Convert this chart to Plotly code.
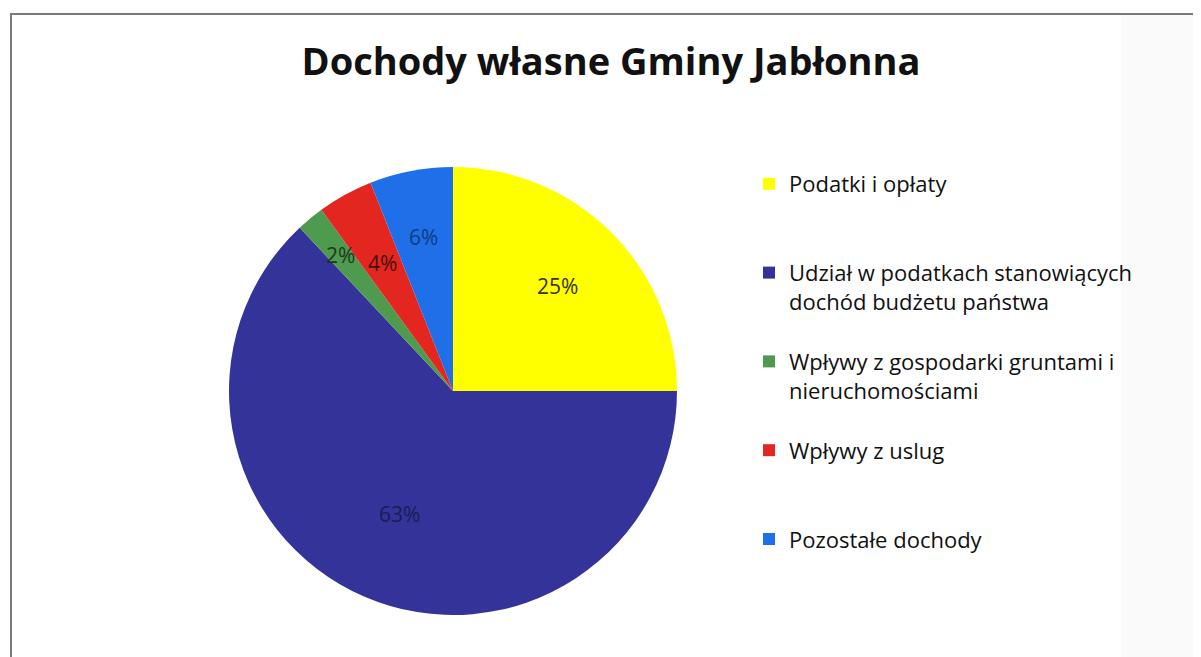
import math
import plotly.graph_objects as go

# data
categories = [
    "Podatki i opłaty",
    "Udział w podatkach stanowiących<br>dochód budżetu państwa",
    "Wpływy z gospodarki gruntami i<br>nieruchomościami",
    "Wpływy z uslug",
    "Pozostałe dochody",
]
shares = [25, 63, 2, 4, 6]
colors = ["#FFFF00", "#333399", "#4E9A4E", "#E3261F", "#1F70E8"]
label_colors = ["#333311", "#1b1b55", "#1a3a1a", "#4a0e0e", "#123a80"]

W, H = 1201, 657
OFF = 8  # the page body has an 8px margin
FONT = "Open Sans"


def px_x(x):
    return (x - OFF) / W


def px_y(y):
    return 1 - (y - OFF) / H


# pie placement (screen px -> paper)
dom_x = [px_x(221), px_x(685)]
dom_y = [px_y(615), px_y(167)]


def legend_label(name, lines=3):
    # pad each entry to the same number of lines so the legend rows are evenly spaced
    n = name.count("<br>") + 1
    return name + "<br> " * (lines - n)


fig = go.Figure()
fig.add_trace(go.Pie(
    labels=[legend_label(c) for c in categories],
    values=shares,
    marker=dict(colors=colors, line=dict(width=0)),
    sort=False,
    direction="clockwise",
    rotation=0,
    textinfo="none",
    hoverinfo="label+percent",
    domain=dict(x=dom_x, y=dom_y),
))

# percentage labels placed at the middle angle of each slice
cx = (dom_x[0] + dom_x[1]) / 2 * W
cy = (1 - (dom_y[0] + dom_y[1]) / 2) * H
r = min((dom_x[1] - dom_x[0]) * W, (dom_y[1] - dom_y[0]) * H) / 2
label_r = [0.66, 0.60, 0.79, 0.65, 0.70]
total = sum(shares)
cum = 0
for v, fr, tc in zip(shares, label_r, label_colors):
    mid = (cum + v / 2) / total * 2 * math.pi
    cum += v
    px = cx + r * fr * math.sin(mid)
    py = cy - r * fr * math.cos(mid)
    fig.add_annotation(
        x=px / W, y=1 - py / H, xref="paper", yref="paper",
        xanchor="center", yanchor="middle",
        text=f"{round(v / total * 100)}%", showarrow=False,
        font=dict(family=FONT, size=21, color=tc),
    )

fig.update_layout(
    width=W, height=H,
    margin=dict(l=0, r=0, t=0, b=0),
    paper_bgcolor="white",
    plot_bgcolor="white",
    font=dict(family=FONT, color="#111111"),
    title=dict(
        text="Dochody własne Gminy Jabłonna",
        x=px_x(611), xanchor="center", y=px_y(62), yanchor="middle",
        font=dict(family=FONT, size=38, color="#111111", weight="bold"),
    ),
    showlegend=True,
    legend=dict(
        x=px_x(749), y=px_y(163), xanchor="left", yanchor="top",
        font=dict(family=FONT, size=22, color="#111111"),
        valign="top",
        traceorder="normal",
        bgcolor="rgba(0,0,0,0)",
    ),
    shapes=[
        # scanned frame
        dict(type="rect", xref="paper", yref="paper",
             x0=px_x(1121), x1=1, y0=0, y1=px_y(15),
             fillcolor="#fafafa", line=dict(width=0), layer="below"),
        dict(type="line", xref="paper", yref="paper",
             x0=px_x(10), x1=1, y0=px_y(14), y1=px_y(14),
             line=dict(color="#7a7a7a", width=2)),
        dict(type="line", xref="paper", yref="paper",
             x0=px_x(11), x1=px_x(11), y0=0, y1=px_y(14),
             line=dict(color="#7a7a7a", width=2)),
    ],
)

fig.write_html("out.html")
